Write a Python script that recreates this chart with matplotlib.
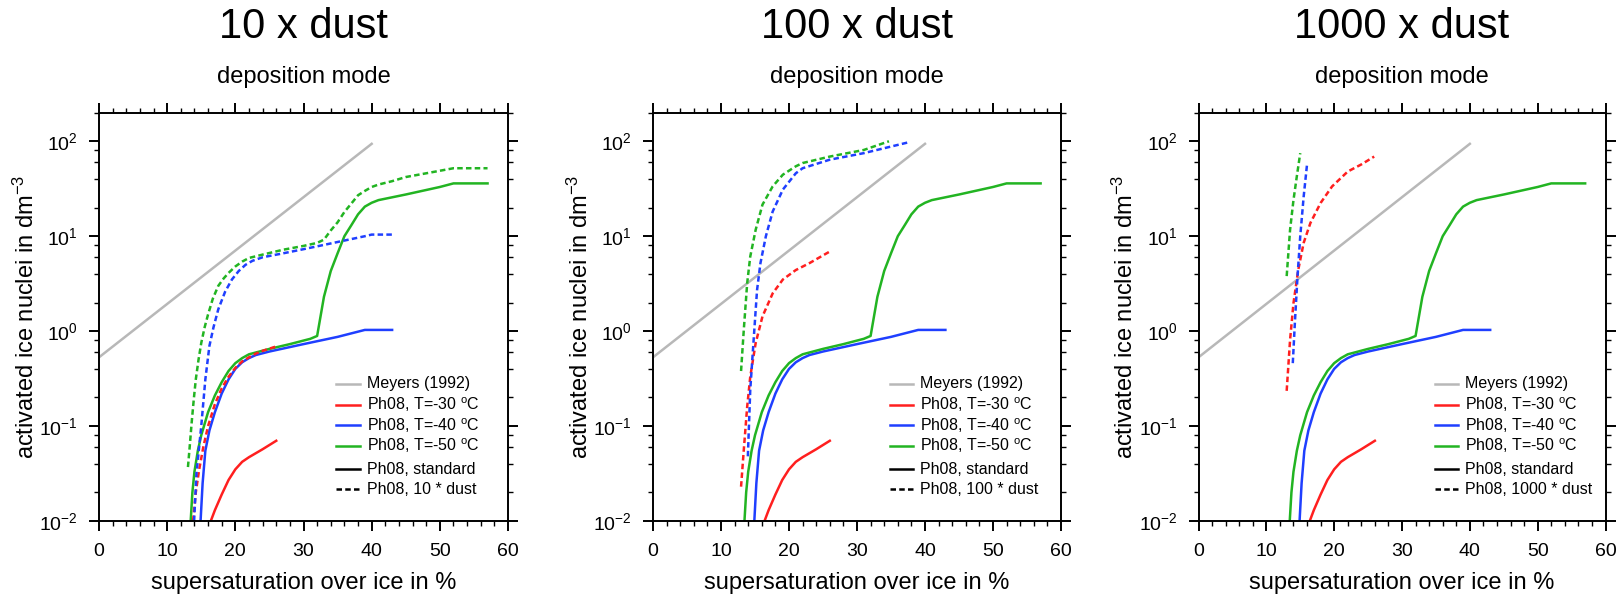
import numpy as np
import matplotlib
matplotlib.use('Agg')
import matplotlib.pyplot as plt
from matplotlib.ticker import MultipleLocator, LogLocator, NullFormatter

plt.rcParams['font.family'] = ['Liberation Sans', 'DejaVu Sans']
plt.rcParams['mathtext.fontset'] = 'custom'
plt.rcParams['mathtext.rm'] = 'Liberation Sans'
plt.rcParams['mathtext.it'] = 'Liberation Sans:italic'
plt.rcParams['mathtext.bf'] = 'Liberation Sans:bold'

# Meyers (1992) reference line
meyers_s = [0, 40]
meyers_n = [0.53, 94]

# Ph08 standard, identical in all three panels
std30_s = [16.4, 17, 18, 19, 20, 21, 22, 24, 26]
std30_n = [0.010, 0.013, 0.019, 0.027, 0.035, 0.042, 0.047, 0.057, 0.070]
std40_s = [14.9, 15.2, 15.6, 16.2, 17, 18, 19, 20, 21, 22, 23, 25, 30, 35, 39, 43]
std40_n = [0.01, 0.025, 0.055, 0.09, 0.14, 0.22, 0.31, 0.40, 0.47, 0.52, 0.56, 0.61, 0.73, 0.87, 1.03, 1.03]
std50_s = [13.45, 13.7, 14, 14.5, 15, 16, 17, 18, 19, 20, 21, 22, 25, 28, 31, 32,
           33, 34, 35, 36, 37, 38, 39, 40, 41, 45, 50, 52, 57]
std50_n = [0.01, 0.02, 0.033, 0.055, 0.08, 0.14, 0.21, 0.29, 0.38, 0.46, 0.52, 0.57, 0.65, 0.73, 0.83, 0.89,
           2.3, 4.3, 6.6, 10, 13, 17, 20.5, 22.5, 24, 27.5, 33, 36, 36]

# Ph08, 10 * dust
d10_30_s = [13.8, 14.2, 14.7, 15.3, 16.0, 17, 18, 19, 20, 21, 22, 23, 24, 26]
d10_30_n = [0.01, 0.02, 0.035, 0.06, 0.1, 0.17, 0.25, 0.33, 0.41, 0.48, 0.53, 0.58, 0.62, 0.69]
d10_40_s = [13.95, 14.3, 15.0, 15.6, 16.2, 16.8, 17.5, 18.5, 19.5, 20.5, 21.5, 22.5, 24, 27, 30, 33, 36, 39, 40, 43]
d10_40_n = [0.01, 0.032, 0.1, 0.31, 0.7, 1.1, 1.7, 2.6, 3.5, 4.3, 5.0, 5.5, 6.0, 6.6, 7.3, 8.1, 9.0, 10.0, 10.4, 10.4]
d10_50_s = [13.05, 13.3, 13.6, 13.9, 14.2, 14.6, 15.0, 15.5, 16.0, 16.7, 17.5, 18.3, 19.0, 20, 21, 22, 24, 27,
            30, 32, 33, 34, 35, 36, 37, 38, 39, 40, 41, 43, 45, 48, 52, 57]
d10_50_n = [0.037, 0.06, 0.11, 0.19, 0.31, 0.5, 0.75, 1.1, 1.5, 2.2, 3.0, 3.6, 4.1, 4.8, 5.4, 5.9, 6.4, 7.2,
            7.9, 8.5, 9.2, 11.5, 14, 18, 22, 27, 30, 33, 35, 38, 42, 46, 52, 52]

# Ph08, 100 * dust
d100_30_s = [12.95, 13.35, 13.85, 14.3, 15.1, 16.1, 17.6, 19.1, 21.0, 23.0, 26.0]
d100_30_n = [0.023, 0.056, 0.16, 0.33, 0.75, 1.43, 2.5, 3.5, 4.4, 5.2, 6.9]
d100_40_s = [13.95, 14.3, 14.8, 15.3, 15.8, 16.6, 17.6, 19.1, 21.0, 22.0, 26.0, 31.0, 37.7]
d100_40_n = [0.048, 0.24, 0.81, 2.7, 5.2, 10, 18.2, 31, 46, 52, 64, 75, 98]
d100_50_s = [12.95, 13.35, 13.85, 14.3, 15.1, 16.1, 17.6, 19.1, 21.0, 22.0, 26.0, 31.0, 34.7]
d100_50_n = [0.38, 1.03, 3.2, 6.1, 11.7, 21.5, 33.5, 44.5, 54.5, 59, 69, 81, 100]

# Ph08, 1000 * dust
d1000_30_s = [13.0, 13.5, 14.0, 14.7, 15.5, 16.5, 18.0, 19.7, 22.0, 24.0, 25.9]
d1000_30_n = [0.235, 0.81, 1.97, 4.4, 8.5, 13.8, 22.4, 33.5, 48, 57, 69]
d1000_40_s = [13.9, 14.2, 14.6, 15.0, 15.5, 16.0]
d1000_40_n = [0.46, 1.2, 3.8, 10, 26, 57]
d1000_50_s = [13.0, 13.5, 14.0, 14.5, 15.0]
d1000_50_n = [3.8, 11.7, 24, 43, 75]

titles = ['10 x dust', '100 x dust', '1000 x dust']
dust_labels = ['Ph08, 10 * dust', 'Ph08, 100 * dust', 'Ph08, 1000 * dust']
dust_s = [(d10_30_s, d10_40_s, d10_50_s), (d100_30_s, d100_40_s, d100_50_s), (d1000_30_s, d1000_40_s, d1000_50_s)]
dust_n = [(d10_30_n, d10_40_n, d10_50_n), (d100_30_n, d100_40_n, d100_50_n), (d1000_30_n, d1000_40_n, d1000_50_n)]

c_gray, c_red, c_blue, c_green = '#b8b8b8', '#ff1f1f', '#1f3fff', '#22b422'
dashed = (0, (2.2, 1.3))
lw = 1.8

W, H = 1622, 597
fig = plt.figure(figsize=(W / 100, H / 100), dpi=100)

lefts = [99, 653, 1198.5]
widths = [409, 408, 407]
top, bottom = 112.7, 521

for i in range(3):
    ax = fig.add_axes([lefts[i] / W, (H - bottom) / H, widths[i] / W, (bottom - top) / H])
    ax.plot(meyers_s, meyers_n, color=c_gray, lw=lw)
    ax.plot(std30_s, std30_n, color=c_red, lw=lw)
    ax.plot(std40_s, std40_n, color=c_blue, lw=lw)
    ax.plot(std50_s, std50_n, color=c_green, lw=lw)
    for s, n, c in zip(dust_s[i], dust_n[i], [c_red, c_blue, c_green]):
        ax.plot(s, n, color=c, lw=lw, ls=dashed)

    ax.set_yscale('log')
    ax.set_xlim(0, 60)
    ax.set_ylim(0.01, 200)
    ax.xaxis.set_major_locator(MultipleLocator(10))
    ax.xaxis.set_minor_locator(MultipleLocator(2))
    ax.yaxis.set_major_locator(LogLocator(base=10, numticks=10))
    ax.yaxis.set_minor_locator(LogLocator(base=10, subs=[2, 4, 6, 8], numticks=10))
    ax.yaxis.set_minor_formatter(NullFormatter())
    ax.tick_params(which='both', direction='out', top=True, right=True, colors='black')
    ax.tick_params(which='major', length=7.2, width=1.4, labelsize=14)
    ax.tick_params(which='minor', length=3.6, width=1.0)
    ax.tick_params(axis='x', which='major', pad=9)
    ax.tick_params(axis='y', which='major', pad=8)
    for sp in ax.spines.values():
        sp.set_linewidth(1.4)

    ax.set_xlabel('supersaturation over ice in %', fontsize=17)
    ax.xaxis.label.set_va('baseline')
    ax.xaxis.set_label_coords(0.5, (bottom - 589) / (bottom - top))
    ax.set_ylabel(r'activated ice nuclei in dm$^\mathregular{-3}$', fontsize=17)
    ax.yaxis.label.set_va('center')
    ax.yaxis.set_label_coords(-73 / widths[i], 0.5)

    # legend drawn by hand
    rows = [(c_gray, '-', 'Meyers (1992)'),
            (c_red, '-', r'Ph08, T=-30 $^\mathregular{o}$C'),
            (c_blue, '-', r'Ph08, T=-40 $^\mathregular{o}$C'),
            (c_green, '-', r'Ph08, T=-50 $^\mathregular{o}$C'),
            ('black', '-', 'Ph08, standard'),
            ('black', dashed, dust_labels[i])]
    ypos = [0.336, 0.284, 0.234, 0.184, 0.127, 0.078]
    for (c, ls, lab), yy in zip(rows, ypos):
        ax.plot([0.58, 0.637], [yy, yy], transform=ax.transAxes, color=c, ls=ls, lw=lw, clip_on=False)
        ax.text(0.655, yy, lab, transform=ax.transAxes, fontsize=11.5, va='center', ha='left')

    xc = (lefts[i] + widths[i] / 2) / W
    fig.text(xc, 1 - 38.3 / H, titles[i], fontsize=30, ha='center', va='baseline')
    fig.text(xc, 1 - 82.7 / H, 'deposition mode', fontsize=17, ha='center', va='baseline')

fig.savefig('out.png', dpi=100)
